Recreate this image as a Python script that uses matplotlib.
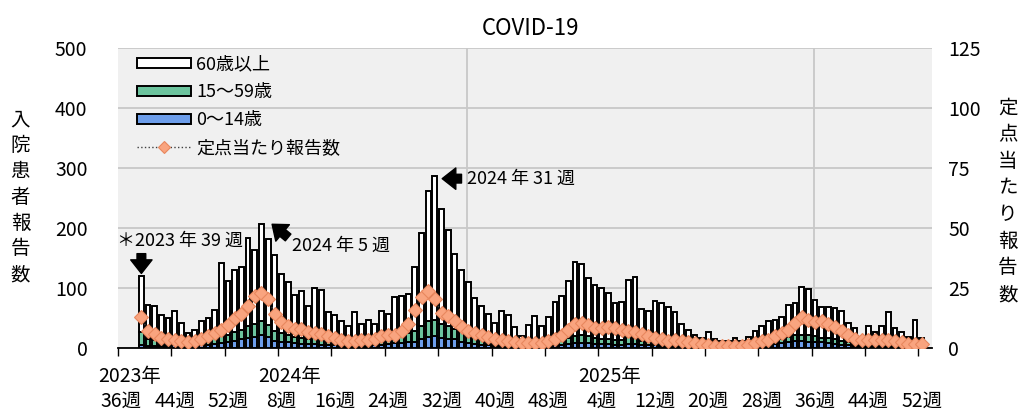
import matplotlib.pyplot as plt
import numpy as np

plt.rcParams['font.family'] = ['Noto Sans CJK JP', 'DejaVu Sans']

# categories: 2023年36週 ～ 2025年52週
week_no = list(range(36, 53)) + list(range(1, 53)) + list(range(1, 53))
year_label = {0: '2023年', 24: '2024年', 72: '2025年'}
first_data = 3  # 2023年39週から報告

age0_14 = [4, 3, 3, 3, 3, 4, 3, 2, 3, 4, 5, 6, 8, 10, 12, 14, 16, 18, 22, 18,
           12, 10, 9, 8, 7, 6, 6, 5, 4, 4, 3, 3, 3, 3, 3, 4, 5, 6, 8, 8,
           10, 10, 14, 18, 20, 16, 14, 14, 10, 8, 6, 5, 4, 3, 3, 3, 2, 2, 2, 3,
           2, 3, 4, 5, 7, 8, 8, 8, 7, 6, 6, 5, 5, 6, 6, 4, 4, 4, 3, 3,
           3, 2, 2, 1, 1, 1, 1, 1, 1, 1, 1, 2, 3, 4, 5, 6, 8, 10, 12, 12,
           10, 10, 9, 8, 7, 5, 4, 3, 2, 3, 2, 3, 3, 3, 2, 2, 3, 2]
age15_59 = [22, 12, 10, 8, 7, 8, 6, 4, 5, 7, 8, 10, 12, 12, 14, 16, 20, 22, 22, 20,
            16, 14, 12, 10, 10, 8, 10, 9, 7, 6, 5, 5, 6, 5, 6, 5, 8, 8, 10, 12,
            14, 18, 22, 26, 26, 24, 22, 18, 16, 14, 12, 10, 8, 6, 6, 5, 4, 3, 4, 5,
            4, 5, 8, 9, 10, 12, 14, 12, 10, 9, 9, 8, 8, 12, 10, 7, 6, 7, 6, 6,
            5, 4, 3, 3, 2, 3, 2, 2, 1, 2, 1, 2, 3, 4, 5, 6, 6, 8, 9, 10,
            12, 10, 8, 8, 7, 6, 5, 4, 2, 4, 3, 4, 5, 4, 3, 2, 4, 2]
age60 = [93, 57, 56, 44, 39, 50, 33, 18, 22, 33, 36, 47, 122, 89, 104, 105, 147, 123, 162, 143,
         126, 99, 89, 70, 78, 56, 83, 82, 48, 45, 36, 29, 51, 32, 37, 31, 49, 42, 66, 66,
         66, 107, 156, 217, 240, 191, 160, 125, 104, 87, 65, 54, 44, 33, 52, 46, 29, 15, 32, 45,
         30, 44, 64, 73, 94, 123, 117, 96, 88, 85, 77, 61, 64, 95, 102, 54, 52, 67, 65, 59,
         52, 34, 25, 18, 14, 22, 12, 9, 9, 13, 10, 14, 22, 29, 34, 34, 38, 54, 53, 80,
         76, 60, 51, 52, 52, 50, 32, 26, 12, 29, 21, 30, 51, 26, 22, 14, 40, 12]
teiten = [12.7, 7.1, 5.9, 4.3, 3.8, 3.4, 2.9, 2.4, 2.9, 3.8, 5.0, 6.2, 7.6, 9.6, 12.4, 14.3, 17.5, 21.5, 22.8, 20.3,
          14.3, 10.8, 9.1, 7.8, 7.8, 6.8, 6.3, 5.7, 4.8, 4.1, 3.3, 2.7, 2.9, 3.1, 3.1, 3.6, 4.8, 5.2, 5.4, 6.9,
          10.1, 15.7, 21.1, 23.6, 20.5, 14.4, 13.2, 11.2, 8.8, 7.1, 6.2, 5.4, 4.7, 3.6, 3.4, 2.7, 2.5, 2.0, 2.1, 2.1,
          2.1, 2.8, 3.9, 5.2, 7.4, 10.0, 10.2, 9.5, 8.4, 8.1, 8.6, 8.2, 7.3, 7.2, 6.6, 5.9, 5.0, 4.3, 3.7, 2.9,
          3.4, 2.7, 2.3, 1.9, 1.5, 1.3, 0.8, 0.8, 0.8, 0.8, 0.8, 1.3, 2.2, 2.9, 3.4, 4.8, 6.4, 7.6, 10.3, 12.7,
          11.7, 10.8, 11.0, 9.9, 8.7, 7.1, 5.4, 3.6, 3.4, 3.4, 3.1, 3.1, 3.1, 2.7, 2.4, 1.7, 1.7, 1.7]

n_cat = len(week_no) + 1
x = np.arange(first_data, first_data + len(age60))
b0 = np.array(age0_14)
b1 = np.array(age15_59)
b2 = np.array(age60)

fig = plt.figure(figsize=(10.21, 4.11), dpi=100)
ax = fig.add_axes([0.1156, 0.1536, 0.797, 0.730])
ax.set_facecolor('#f0f0f0')

w = 0.72
lw = 1.4
ax.bar(x, b0, w, color='#6d9eeb', edgecolor='black', linewidth=lw, label='0～14歳', zorder=3)
ax.bar(x, b1, w, bottom=b0, color='#6cc49e', edgecolor='black', linewidth=lw, label='15～59歳', zorder=3)
ax.bar(x, b2, w, bottom=b0 + b1, color='white', edgecolor='black', linewidth=lw, label='60歳以上', zorder=3)

ax.set_xlim(-0.5, n_cat - 0.5)
ax.set_ylim(0, 500)
ax.set_yticks(range(0, 501, 100))
ax.grid(axis='y', color='#c8c8c8', linewidth=1.3, zorder=0)
for season in (52, 104):
    ax.axvline(season - 0.2, color='#c8c8c8', linewidth=1.3, zorder=0)

ticks = list(range(0, len(week_no), 8))
ax.set_xticks(ticks)
ax.set_xticklabels([f'{week_no[t]}週' for t in ticks], fontsize=14)
ax.set_xticks(np.arange(-0.5, n_cat, 8), minor=True)
ax.tick_params(axis='x', which='major', length=0, pad=31)
ax.tick_params(axis='x', which='minor', length=6, width=1, direction='out')
ax.tick_params(axis='y', length=0, labelsize=14, pad=22)
for t, lab in year_label.items():
    ax.text(t - 3.5, -0.095, lab, transform=ax.get_xaxis_transform(),
            ha='left', va='center', fontsize=14)

for s in ('top', 'left', 'right'):
    ax.spines[s].set_visible(False)
ax.spines['bottom'].set_linewidth(1.3)

ax2 = ax.twinx()
ax2.plot(np.arange(first_data, first_data + len(teiten)), teiten, linestyle=':', color='#404040',
         linewidth=1, marker='D', markersize=7.3, markerfacecolor='#f9a47f',
         markeredgecolor='#e8875e', markeredgewidth=0.8, label='定点当たり報告数', zorder=4)
ax2.set_ylim(0, 125)
ax2.set_yticks(range(0, 126, 25))
ax2.tick_params(axis='y', length=0, labelsize=14, pad=12)
for s in ('top', 'left', 'right', 'bottom'):
    ax2.spines[s].set_visible(False)

fig.text(0.020, 0.52, '\n'.join('入院患者報告数'), ha='center', va='center',
         fontsize=14, linespacing=1.3)
fig.text(0.987, 0.51, '\n'.join('定点当たり報告数'), ha='center', va='center',
         fontsize=14, linespacing=1.35)
fig.text(0.52, 0.93, 'COVID-19', ha='center', va='center', fontsize=16)

h1, l1 = ax.get_legend_handles_labels()
h2, l2 = ax2.get_legend_handles_labels()
ax.legend(h1[::-1] + h2, l1[::-1] + l2, loc='upper left', bbox_to_anchor=(0.023, 0.975),
          frameon=False, fontsize=13, handlelength=3.0, handleheight=0.45,
          handletextpad=0.3, labelspacing=0.55, borderaxespad=0, borderpad=0,
          markerscale=0.8)

arrow = dict(arrowstyle='simple,head_length=0.7,head_width=1.1,tail_width=0.45',
             fc='black', ec='black', shrinkA=0, shrinkB=0, mutation_scale=14)
ax.annotate('', xy=(3, 124), xytext=(3, 157), arrowprops=arrow, zorder=5)
ax.text(-0.7, 178, '＊2023 年 39 週', ha='left', va='center', fontsize=13)
ax.annotate('', xy=(22.6, 206), xytext=(25.0, 184), arrowprops=arrow, zorder=5)
ax.text(25.6, 170, '2024 年 5 週', ha='left', va='center', fontsize=13)
ax.annotate('', xy=(48.1, 282), xytext=(51.0, 282), arrowprops=arrow, zorder=5)
ax.text(51.8, 282, '2024 年 31 週', ha='left', va='center', fontsize=13)

fig.savefig('out.png', dpi=100)
